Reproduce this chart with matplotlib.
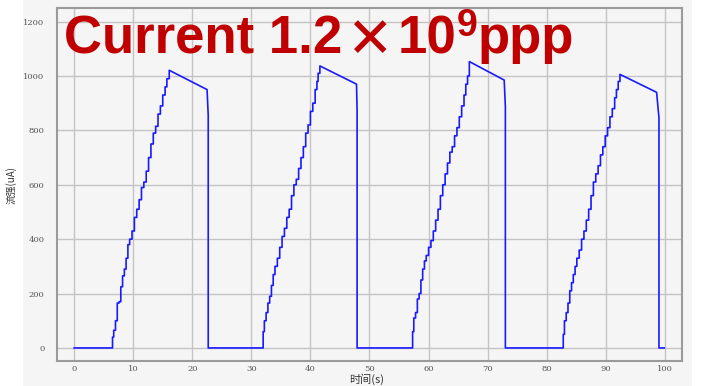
import matplotlib.pyplot as plt
from matplotlib.patches import Rectangle

# beam current, four fill cycles
# each cycle: start of injection, step times/levels, end of decay, dump time
start = [6.5, 32.0, 57.3, 82.8]

t1 = [6.5, 6.7, 7.0, 7.3, 7.6, 7.9, 8.2, 8.5, 8.8, 9.1, 9.4, 9.8, 10.2, 10.6,
      11.0, 11.4, 11.8, 12.2, 12.6, 13.0, 13.4, 13.8, 14.2, 14.6, 15.0, 15.4, 15.7, 16.1]
v1 = [40, 65, 100, 165, 170, 225, 265, 290, 330, 380, 400, 430, 480, 510,
      545, 590, 610, 650, 700, 750, 790, 815, 860, 890, 930, 960, 990, 1021]

t2 = [32.0, 32.2, 32.5, 32.8, 33.1, 33.4, 33.7, 34.0, 34.4, 34.8, 35.2, 35.6, 36.0, 36.4,
      36.8, 37.2, 37.6, 38.0, 38.4, 38.8, 39.2, 39.6, 40.0, 40.4, 40.8, 41.1, 41.3, 41.6]
v2 = [60, 100, 130, 165, 190, 230, 270, 300, 330, 370, 410, 440, 480, 510,
      560, 600, 620, 660, 700, 740, 790, 820, 870, 900, 950, 980, 1010, 1037]

t3 = [57.3, 57.5, 57.8, 58.1, 58.4, 58.7, 59.0, 59.3, 59.6, 60.0, 60.4, 60.8, 61.2, 61.6,
      62.0, 62.4, 62.8, 63.2, 63.6, 64.0, 64.4, 64.8, 65.2, 65.6, 66.0, 66.3, 66.6, 66.9]
v3 = [60, 110, 130, 180, 200, 250, 290, 320, 340, 370, 395, 430, 470, 510,
      560, 600, 640, 680, 720, 740, 780, 810, 850, 890, 930, 970, 1000, 1053]

t4 = [82.8, 83.0, 83.3, 83.6, 83.9, 84.2, 84.5, 84.8, 85.1, 85.5, 85.9, 86.3, 86.7, 87.1,
      87.5, 87.9, 88.3, 88.7, 89.1, 89.5, 89.9, 90.3, 90.7, 91.1, 91.5, 91.8, 92.1, 92.4]
v4 = [50, 100, 130, 165, 210, 240, 270, 300, 330, 360, 400, 430, 470, 510,
      560, 610, 640, 670, 710, 740, 780, 810, 850, 880, 920, 950, 980, 1006]

decay_end_t = [22.5, 47.8, 72.8, 98.6]
decay_end_v = [950, 970, 985, 940]
dump_t = [22.7, 47.9, 73.0, 99.0]
t_end = 99.9

ramps_t = [t1, t2, t3, t4]
ramps_v = [v1, v2, v3, v4]

# build the trace
xs, ys = [0.0], [0.0]
for k in range(4):
    xs.append(start[k]); ys.append(0)
    prev = 0
    for tt, vv in zip(ramps_t[k], ramps_v[k]):
        xs += [tt, tt]
        ys += [prev, vv]
        prev = vv
    xs.append(decay_end_t[k]); ys.append(decay_end_v[k])
    xs += [dump_t[k], dump_t[k]]
    ys += [decay_end_v[k] * 0.9, 0]
xs.append(t_end); ys.append(0)

W, H = 703, 386
fig = plt.figure(figsize=(W / 100, H / 100), dpi=100, facecolor='white')
fig.patches.append(Rectangle((23 / W, 0), (692 - 23) / W, 1, transform=fig.transFigure,
                             facecolor='#f5f5f5', edgecolor='none', zorder=-1))

ax = fig.add_axes([57 / W, (H - 361) / H, (682 - 57) / W, (361 - 8) / H])
ax.set_facecolor('#f5f5f5')
ax.plot(xs, ys, color='#1a1aff', lw=1.2, zorder=3)

ax.set_xlim(-2.9, 102.9)
ax.set_ylim(-48, 1250)
ax.set_xticks(range(0, 101, 10))
ax.set_yticks(range(0, 1201, 200))
ax.grid(True, color='#c4c4c4', lw=1.0)
for s in ax.spines.values():
    s.set_color('#9a9a9a')
    s.set_linewidth(1.5)
ax.tick_params(length=0, labelsize=6, colors='#555555')
ax.tick_params(axis='y', pad=9)
ax.tick_params(axis='x', pad=3)
for lab in ax.get_xticklabels() + ax.get_yticklabels():
    lab.set_family('DejaVu Serif')

cjk = ['Noto Sans CJK SC', 'DejaVu Sans']
fig.text(367 / W, 1 - 379 / H, '时间(s)', family=cjk, fontsize=8, color='#333333',
         ha='center', va='center')
fig.text(11 / W, 1 - 185 / H, '流强(uA)', family=cjk, fontsize=7, color='#333333',
         ha='center', va='center', rotation=90)

# headline, laid out piece by piece
red = '#c00000'
renderer = fig.canvas.get_renderer()
base = 1 - 53 / H
x = 64
pieces = [('Current 1.2', 'Liberation Sans', 'bold', 38, 0, 5),
          ('\u2715', 'DejaVu Sans', 'normal', 40, -4, 4),
          ('10', 'Liberation Sans', 'bold', 38, 0, 0),
          ('9', 'Liberation Sans', 'bold', 27, 17, 0),
          ('ppp', 'Liberation Sans', 'bold', 38, 0, 0)]
for s, fam, wt, size, rise, gap in pieces:
    t = fig.text(x / W, base + rise / H, s, family=fam, weight=wt, fontsize=size,
                 color=red, ha='left', va='baseline', zorder=10)
    bb = t.get_window_extent(renderer)
    x = bb.x1 + gap

fig.savefig('out.png', dpi=100, facecolor=fig.get_facecolor())
